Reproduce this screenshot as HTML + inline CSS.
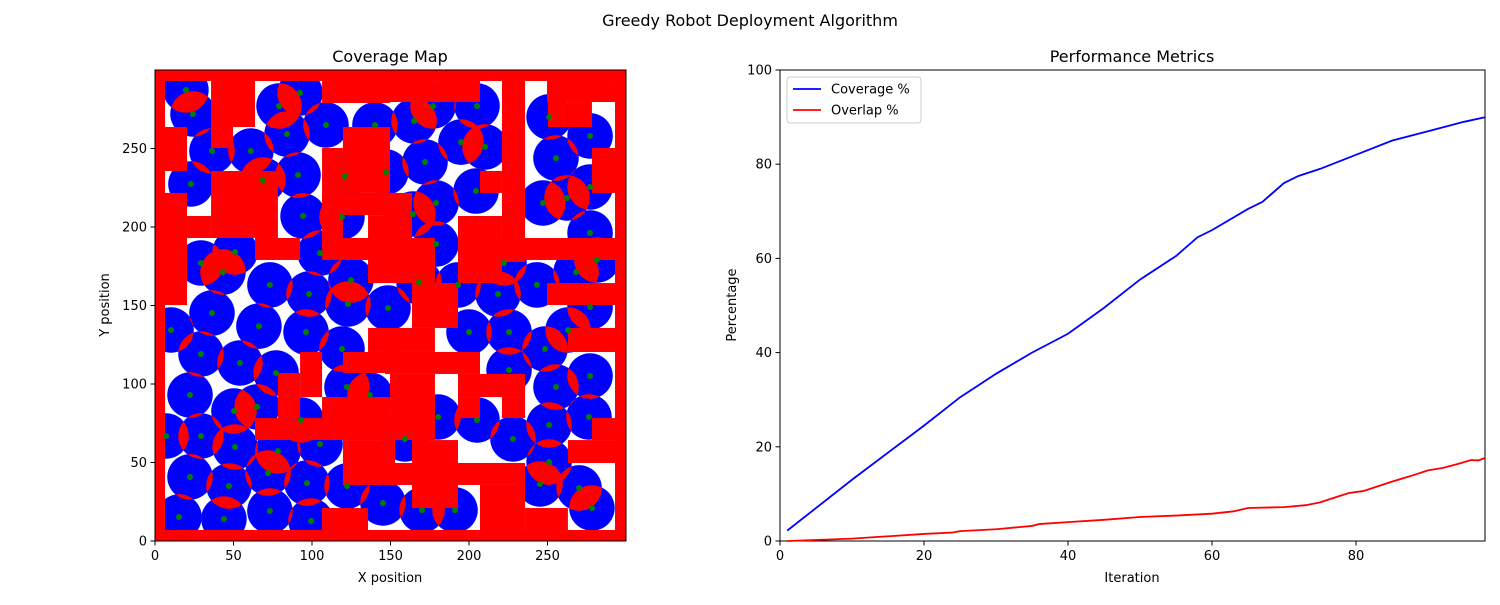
<!DOCTYPE html>
<html><head><meta charset="utf-8"><style>
body{margin:0;background:#fff;font-family:"Liberation Sans","DejaVu Sans",sans-serif}
svg text{font-family:"DejaVu Sans","Liberation Sans",sans-serif;fill:#000}
</style></head><body>
<svg id="fig" width="1500" height="600" viewBox="0 0 1500 600">
<text x="750" y="26" text-anchor="middle" font-size="16">Greedy Robot Deployment Algorithm</text>
<text x="390" y="62" text-anchor="middle" font-size="16">Coverage Map</text>
<text x="1132" y="62" text-anchor="middle" font-size="16">Performance Metrics</text>
<defs><clipPath id="mapclip"><rect x="155" y="70" width="471" height="471"/></clipPath></defs>
<g id="map" clip-path="url(#mapclip)"></g>
<g id="mapaxes"></g>
<g id="perf"></g>
</svg>
<script>
// Coverage map data (grid units 0..300)
const robotX=[19.7,24.2,92.4,79.0,108.9,140.1,84.1,36.3,61.1,91.1,68.8,121.0,147.1,22.9,94.3,119.1,51.0,29.3,43.3,105.1,124.8,73.2,98.1,122.9,148.4,177.1,205.1,165.0,251.0,277.1,194.9,210.2,255.4,172.0,204.5,277.1,179.0,164.3,247.1,262.4,277.1,179.0,222.3,281.5,268.2,168.2,193.0,243.3,218.5,277.1,36.3,10.2,66.2,96.2,29.3,119.1,54.1,77.1,22.3,122.3,136.9,50.3,65.0,93.0,7.0,29.3,51.0,105.1,78.3,72.0,22.3,47.1,96.8,122.3,145.2,15.3,43.9,73.2,99.4,200.0,225.5,263.1,248.4,225.5,277.1,255.4,276.4,180.3,205.1,251.0,159.2,228.0,251.0,245.2,270.1,278.3,170.1,191.1];
const robotY=[287.3,272.0,285.4,277.1,265.0,265.0,259.2,248.4,248.4,233.1,229.9,232.5,235.0,227.4,207.0,206.4,184.1,177.1,171.3,183.4,166.2,163.1,157.3,151.0,148.4,277.1,277.1,267.5,270.1,258.0,254.1,251.0,243.9,241.4,222.9,225.5,215.3,208.3,215.3,218.5,196.2,189.2,177.1,179.0,171.3,165.0,163.1,163.1,157.3,149.0,145.2,134.4,136.9,133.1,119.1,122.3,113.4,107.0,93.0,98.1,93.0,82.8,85.4,77.1,66.9,66.9,59.9,61.8,57.3,43.3,40.8,35.0,36.9,35.0,24.2,15.3,14.0,19.1,12.7,133.1,133.1,134.4,122.3,108.9,105.1,98.1,79.0,79.0,77.1,73.9,65.0,65.0,50.3,36.3,33.8,21.0,19.7,19.7];
const sensorRadius=14.5;
// obstacles [x0,x1,y0,y1]
const obstacles=[[0,300,293,300],[0,300,0,7],[0,6.4,0,300],[293,300,0,300],
[35.7,63.7,263.7,293],[35.7,49.7,250.3,263.7],[0,20.4,235.7,263.7],[0,20.4,150.3,221.7],[35.7,78.3,193,235.7],[20.4,35.7,193,207],[63.7,92.4,179,193],
[106.4,149.7,279,293],[146.5,178.3,279.6,293],[178.3,207,279.6,293],[221,235.7,177.7,293],[250.3,263,263.7,293],[263,278.3,263.7,279.6],[249.7,293,279.6,293],
[119.7,149.7,221.7,263.7],[106.4,119.7,193,250.3],[106.4,152.9,207.6,221.7],[135.7,149.7,164.3,207.6],[106.4,152.9,179,193],[146.5,163.7,193,221.7],[146.5,178.3,164.3,193],
[193,221,164.3,207],[207,221,221.7,235.7],[221,293,179,193],[278.3,293,221.7,250.3],[249.7,293,150.3,164.3],[163.7,193,135.7,164.3],[146.5,178.3,120.4,135.7],[135.7,152.9,120.4,135.7],
[146.5,207,106.4,120.4],[149.7,178.3,64.3,106.4],[193,235.7,91.7,106.4],[221,235.7,78.3,91.7],[193,207,78.3,91.7],[263,293,120.4,135.7],[278.3,293,64.3,78.3],[263,293,49.7,64.3],
[146.5,235.7,35.7,49.7],[163.7,193,21,64.3],[207,235.7,7,35.7],[235.7,263,7,21],[92.4,106.4,91.7,120.4],[78.3,92.4,78.3,107],[63.7,106.4,64.3,78.3],[106.4,149.7,64.3,91.7],
[119.7,152.9,107,120.4],[119.7,152.9,35.7,64.3],[106.4,135.7,7,21]];
const mapTicks=[0,50,100,150,200,250];
// Performance data
const iterCov=[1,10,20,25,30,35,40,45,50,55,58,60,65,67,70,72,75,80,85,90,95,98];
const coverage=[2.2,13,24.5,30.5,35.5,40,44,49.5,55.5,60.5,64.5,66,70.5,72,76,77.5,79,82,85,87,89,90];
const iterOv=[1,10,20,24,25,30,35,36,40,45,50,55,60,63,65,70,73,75,79,81,85,88,90,92,94,96,97,98];
const overlap=[0,0.5,1.5,1.8,2.1,2.5,3.2,3.6,4,4.5,5.1,5.4,5.8,6.3,7,7.2,7.6,8.2,10.2,10.6,12.6,14,15,15.5,16.3,17.2,17.1,17.7];
const perfXTicks=[0,20,40,60,80];
const perfYTicks=[0,20,40,60,80,100];

const NS="http://www.w3.org/2000/svg";
function mk(parent,tag,attrs){const e=document.createElementNS(NS,tag);for(const k in attrs)e.setAttribute(k,attrs[k]);parent.appendChild(e);return e;}
const mx=v=>155+v*1.57, my=v=>541-v*1.57;
const map=document.getElementById('map');
let bg=mk(map,'rect',{x:155,y:70,width:471,height:471,fill:'#fff'});


const R=sensorRadius*1.57;
robotX.forEach((x,i)=>{const c=mk(map,'circle',{cx:mx(x),cy:my(robotY[i]),r:R,fill:'#0000ff'});

});
// overlap lenses
for(let i=0;i<robotX.length;i++)for(let j=i+1;j<robotX.length;j++){
 const ax=mx(robotX[i]),ay=my(robotY[i]),bx=mx(robotX[j]),by=my(robotY[j]);
 const dx=bx-ax,dy=by-ay,d=Math.hypot(dx,dy);
 if(d>=2*R||d<1)continue;
 const h=Math.sqrt(R*R-d*d/4),mxp=(ax+bx)/2,myp=(ay+by)/2,ux=-dy/d,uy=dx/d;
 const p1x=mxp+h*ux,p1y=myp+h*uy,p2x=mxp-h*ux,p2y=myp-h*uy;
 const l=mk(map,'path',{d:`M${p1x},${p1y} A${R},${R} 0 0 1 ${p2x},${p2y} A${R},${R} 0 0 1 ${p1x},${p1y} Z`,fill:'#ff0000'});
 
 
}
obstacles.forEach(o=>{const r=mk(map,'rect',{x:mx(o[0]),y:my(o[3]),width:(o[1]-o[0])*1.57,height:(o[3]-o[2])*1.57,fill:'#ff0000'});

});
robotX.forEach((x,i)=>{const c=mk(map,'circle',{cx:mx(x),cy:my(robotY[i]),r:3,fill:'#008000'});

});
const ma=document.getElementById('mapaxes');
let fr=mk(ma,'rect',{x:155,y:70,width:471,height:471,fill:'none',stroke:'#000','stroke-width':1});


mapTicks.forEach(t=>{
 mk(ma,'line',{x1:mx(t),x2:mx(t),y1:541,y2:545.5,stroke:'#000'});
 let tx=mk(ma,'text',{x:mx(t),y:560,'text-anchor':'middle','font-size':13});tx.textContent=t;
 
 
 mk(ma,'line',{x1:150.5,x2:155,y1:my(t),y2:my(t),stroke:'#000'});
 let ty=mk(ma,'text',{x:147,y:my(t)+4.5,'text-anchor':'end','font-size':13});ty.textContent=t;
 
 
});
let xl=mk(ma,'text',{x:390,y:582,'text-anchor':'middle','font-size':13});xl.textContent='X position';


let yl=mk(ma,'text',{x:109,y:305,'text-anchor':'middle','font-size':13,transform:'rotate(-90 109 305)'});yl.textContent='Y position';


const px=v=>780+v*7.2, py=v=>541-v*4.71;
const pf=document.getElementById('perf');
let pfr=mk(pf,'rect',{x:780,y:70,width:705,height:471,fill:'none',stroke:'#000'});


perfXTicks.forEach(t=>{mk(pf,'line',{x1:px(t),x2:px(t),y1:541,y2:545.5,stroke:'#000'});
 let e=mk(pf,'text',{x:px(t),y:560,'text-anchor':'middle','font-size':13});e.textContent=t;
 
 });
perfYTicks.forEach(t=>{mk(pf,'line',{x1:775.5,x2:780,y1:py(t),y2:py(t),stroke:'#000'});
 let e=mk(pf,'text',{x:772,y:py(t)+4.5,'text-anchor':'end','font-size':13});e.textContent=t;
 
 });
let pxl=mk(pf,'text',{x:1132,y:582,'text-anchor':'middle','font-size':13});pxl.textContent='Iteration';


let pyl=mk(pf,'text',{x:736,y:305,'text-anchor':'middle','font-size':13,transform:'rotate(-90 736 305)'});pyl.textContent='Percentage';


let lc=mk(pf,'polyline',{points:iterCov.map((x,i)=>px(x)+','+py(coverage[i])).join(' '),fill:'none',stroke:'#0000ff','stroke-width':1.8});


let lo=mk(pf,'polyline',{points:iterOv.map((x,i)=>px(x)+','+py(overlap[i])).join(' '),fill:'none',stroke:'#ff0000','stroke-width':1.8});


let lg=mk(pf,'g',{});


mk(lg,'rect',{x:787,y:77,width:134,height:46,rx:3,fill:'#fff',stroke:'#ccc'});
mk(lg,'line',{x1:793,x2:821,y1:89,y2:89,stroke:'#0000ff','stroke-width':1.8});
let t1=mk(lg,'text',{x:831,y:93.5,'font-size':13});t1.textContent='Coverage %';


mk(lg,'line',{x1:793,x2:821,y1:110,y2:110,stroke:'#ff0000','stroke-width':1.8});
let t2=mk(lg,'text',{x:831,y:114.5,'font-size':13});t2.textContent='Overlap %';


</script>
</body></html>
